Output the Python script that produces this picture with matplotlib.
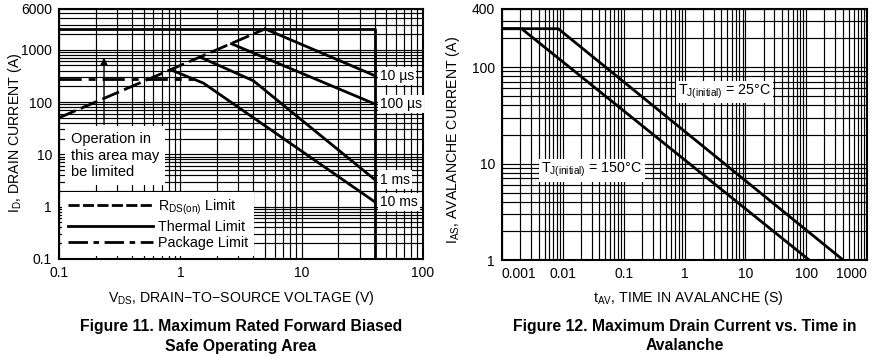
import matplotlib
matplotlib.use("Agg")
import matplotlib.pyplot as plt
from matplotlib.lines import Line2D
from matplotlib.ticker import FixedLocator, LogLocator, NullFormatter, FixedFormatter

plt.rcParams['font.family'] = ['Liberation Sans', 'DejaVu Sans']
plt.rcParams['mathtext.fontset'] = 'custom'
plt.rcParams['mathtext.rm'] = 'Liberation Sans'

# Figure 11: safe operating area
rds_v = [0.1, 5.0]
rds_i = [50, 2500]
package_v = [0.1, 1.3]
package_i = [270, 270]
limit_v = [0.1, 40, 40]
limit_i = [2500, 2500, 0.1]
t10us_v = [5.0, 40]
t10us_i = [2500, 320]
t100us_v = [2.64, 40]
t100us_i = [1300, 92]
t1ms_v = [1.46, 4.0, 40]
t1ms_i = [720, 255, 3.3]
t10ms_v = [0.83, 1.55, 40]
t10ms_i = [415, 230, 1.24]
soa_xticks = [0.1, 1, 10, 100]
soa_yticks = [0.1, 1, 10, 100, 1000, 6000]

# Figure 12: avalanche current
t150_t = [0.001, 0.0021, 112]
t150_i = [250, 250, 1]
t25_t = [0.001, 0.0084, 405]
t25_i = [250, 250, 1]
av_xticks = [0.001, 0.01, 0.1, 1, 10, 100, 1000]
av_yticks = [1, 10, 100, 400]

W, H = 877, 356
fig = plt.figure(figsize=(W / 100, H / 100), dpi=100)

ax1 = fig.add_axes([59 / W, 1 - 259 / H, 364 / W, 250 / H])
ax2 = fig.add_axes([502 / W, 1 - 260 / H, 365 / W, 251 / H])

lw = 2.0


def setup(ax, xlim, ylim, xticks, yticks):
    ax.set_xscale('log')
    ax.set_yscale('log')
    ax.set_xlim(*xlim)
    ax.set_ylim(*ylim)
    ax.xaxis.set_major_locator(FixedLocator(xticks))
    ax.yaxis.set_major_locator(FixedLocator(yticks))
    ax.xaxis.set_major_formatter(FixedFormatter([f"{t:g}" for t in xticks]))
    ax.yaxis.set_major_formatter(FixedFormatter([f"{t:g}" for t in yticks]))
    ax.xaxis.set_minor_locator(LogLocator(base=10, subs=range(2, 10), numticks=20))
    ax.yaxis.set_minor_locator(LogLocator(base=10, subs=range(2, 10), numticks=20))
    ax.xaxis.set_minor_formatter(NullFormatter())
    ax.yaxis.set_minor_formatter(NullFormatter())
    ax.grid(True, which='both', color='black', lw=0.85)
    ax.tick_params(which='both', length=0, labelsize=10, pad=5)
    for s in ax.spines.values():
        s.set_linewidth(1.5)


setup(ax1, (0.1, 100), (0.1, 6000), soa_xticks, soa_yticks)
setup(ax2, (0.001, 1000), (1, 400), av_xticks, av_yticks)

# --- Figure 11 curves
dash = (0, (6.5, 2))
dashdot = (0, (8, 2.5, 2.5, 2.5))
ax1.plot(rds_v, rds_i, color='black', lw=lw, ls=dash)
ax1.plot(package_v, package_i, color='black', lw=lw, ls=dashdot)
ax1.plot(limit_v, limit_i, color='black', lw=lw, solid_capstyle='butt')
for v, i in [(t10us_v, t10us_i), (t100us_v, t100us_i), (t1ms_v, t1ms_i), (t10ms_v, t10ms_i)]:
    ax1.plot(v, i, color='black', lw=lw)

box = dict(facecolor='white', edgecolor='none', pad=1.5)
for y, s in [(320, '10 µs'), (92, '100 µs'), (3.3, '1 ms'), (1.24, '10 ms')]:
    ax1.text(44, y, s, fontsize=10, ha='left', va='center', bbox=box)

ax1.annotate('', xy=(0.235, 800), xytext=(0.235, 33),
             arrowprops=dict(arrowstyle='-|>', color='black', lw=1, mutation_scale=10))
ax1.text(0.125, 27, 'Operation in\nthis area may\nbe limited', fontsize=10.5, ha='left', va='top',
         linespacing=1.25, bbox=dict(facecolor='white', edgecolor='none', pad=4))

handles = [Line2D([], [], color='black', lw=lw, ls=(0, (4, 1.2))),
           Line2D([], [], color='black', lw=lw),
           Line2D([], [], color='black', lw=lw, ls=(0, (7, 2, 2, 2)))]
leg = ax1.legend(handles, [r'R$\mathregular{_{DS(on)}}$ Limit', 'Thermal Limit', 'Package Limit'],
                 loc='lower left', fontsize=10.3, handlelength=6.0, handletextpad=0.3,
                 borderaxespad=0.2, labelspacing=0.2, frameon=True, fancybox=False,
                 framealpha=1, edgecolor='none', borderpad=0.4)

# --- Figure 12 curves
ax2.plot(t150_t, t150_i, color='black', lw=lw)
ax2.plot(t25_t, t25_i, color='black', lw=lw)
ax2.text(4.5, 55, r'T$\mathregular{_{J(initial)}}$ = 25°C', fontsize=10.3, ha='center', va='center', bbox=box)
ax2.text(0.03, 8.5, r'T$\mathregular{_{J(initial)}}$ = 150°C', fontsize=10.3, ha='center', va='center', bbox=box)
lbls = ax2.get_xticklabels()
lbls[0].set_ha('left')
lbls[-1].set_ha('right')

# axis labels
fig.text(15 / W, 1 - 133 / H, r'I$\mathregular{_D}$, DRAIN CURRENT (A)', rotation=90,
         ha='center', va='center', fontsize=10.2)
fig.text(453 / W, 1 - 140 / H, r'I$\mathregular{_{AS}}$, AVALANCHE CURRENT (A)', rotation=90,
         ha='center', va='center', fontsize=10.2)
fig.text(241 / W, 1 - 298 / H, r'V$\mathregular{_{DS}}$, DRAIN−TO−SOURCE VOLTAGE (V)',
         ha='center', va='center', fontsize=10.2)
fig.text(688 / W, 1 - 298 / H, r't$\mathregular{_{AV}}$, TIME IN AVALANCHE (S)',
         ha='center', va='center', fontsize=10.2)

cap = dict(fontsize=11.3, fontweight='bold', ha='center', va='center',
           family=['Liberation Sans Narrow', 'Liberation Sans'])
fig.text(241 / W, 1 - 327 / H, 'Figure 11. Maximum Rated Forward Biased', **cap)
fig.text(241 / W, 1 - 346 / H, 'Safe Operating Area', **cap)
fig.text(685 / W, 1 - 327 / H, 'Figure 12. Maximum Drain Current vs. Time in', **cap)
fig.text(685 / W, 1 - 346 / H, 'Avalanche', **cap)

fig.savefig('out.png', dpi=100)
